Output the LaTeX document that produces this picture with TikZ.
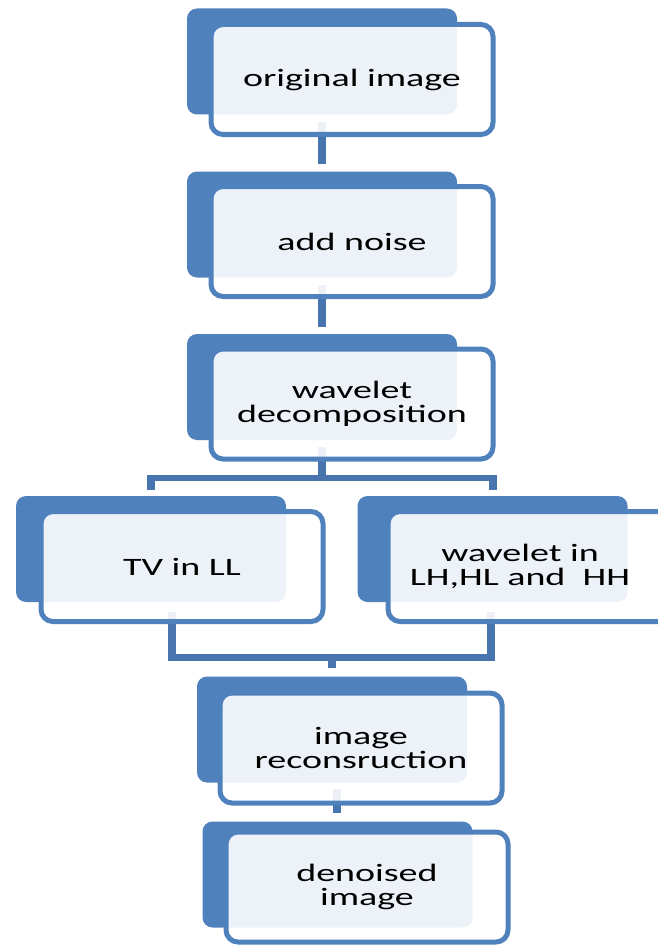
\documentclass[tikz,border=0pt]{standalone}
\usepackage{fontspec}
\setmainfont{Carlito}[FakeStretch=1.52]
\definecolor{acc}{RGB}{79,129,189}
\definecolor{conn}{RGB}{72,117,174}
\begin{document}
\begin{tikzpicture}[x=1pt,y=-1pt,
  backbox/.style={fill=acc, rounded corners=10pt, minimum width=270pt, minimum height=106pt, inner sep=0pt},
  frontbox/.style={draw=acc, line width=5pt, fill=white, fill opacity=0.9, text opacity=1,
    rounded corners=12pt, minimum width=282pt, minimum height=110pt, inner sep=0pt},
  lbl/.style={align=center, inner sep=0pt, font=\fontsize{25}{24}\selectfont, text=black},
  vlink/.style={draw=conn, line width=8pt},
  hlink/.style={draw=conn, line width=6pt}]
\useasboundingbox (0,0) rectangle (658,947);
% back boxes
\node[backbox] (b1) at (322,61.5) {};
\node[backbox] (b2) at (322,224.5) {};
\node[backbox] (b3) at (322,387) {};
\node[backbox] (bl) at (151,549) {};
\node[backbox] (br) at (492.5,549) {};
\node[backbox] (b5) at (332,729.5) {};
\node[backbox] (b6) at (337.5,874.5) {};
% connector points
\coordinate (tc) at (322,478);
\coordinate (tl) at (151,478);
\coordinate (tr) at (492.5,478);
\coordinate (ml) at (172,657);
\coordinate (mr) at (491,657);
\coordinate (mc) at (332,657);
\coordinate (fl0) at (172,612);
\coordinate (fr0) at (491,612);
\coordinate (s5) at (337,789);
\coordinate (s6) at (337,813);
% connectors
\draw[vlink] ([yshift=-7pt]b1.south) -- ([yshift=7pt]b2.north);
\draw[vlink] ([yshift=-7pt]b2.south) -- ([yshift=7pt]b3.north);
\draw[vlink] ([yshift=-7pt]b3.south) -- (tc);
\draw[hlink] ([xshift=-4pt]tl) -- ([xshift=4pt]tr);
\draw[vlink] ([yshift=3pt]tl) -- ([yshift=6pt]bl.north);
\draw[vlink] ([yshift=3pt]tr) -- ([yshift=6pt]br.north);
\draw[vlink] (fl0) -- ([yshift=-3.5pt]ml);
\draw[vlink] (fr0) -- ([yshift=-3.5pt]mr);
\draw[draw=conn, line width=7pt] ([xshift=-4pt]ml) -- ([xshift=4pt]mr);
\draw[vlink] (mc) -- ([yshift=8pt]b5.north);
\draw[vlink] (s5) -- (s6);
% front boxes
\node[frontbox] (f1) at (352,79.5) {};
\node[frontbox] (f2) at (352,241.5) {};
\node[frontbox] (f3) at (352,404) {};
\node[frontbox] (fl) at (182,566.5) {};
\node[frontbox] (fr) at (529,566.5) {};
\node[frontbox] (f5) at (361,748) {};
\node[frontbox] (f6) at (367,887) {};
% labels
\node[lbl] (t1) at (f1) {original image};
\node[lbl] (t2) at (f2) {add noise};
\node[lbl] (t3) at (f3) {wavelet\\decomposition};
\node[lbl] (tL) at (fl) {TV in LL};
\node[lbl] (tR) at (520,566.5) {wavelet in\\LH,HL and\ \ HH};
\node[lbl] (t5) at (f5) {image\\reconsruction};
\node[lbl] (t6) at (f6) {denoised\\image};
\end{tikzpicture}
\end{document}
